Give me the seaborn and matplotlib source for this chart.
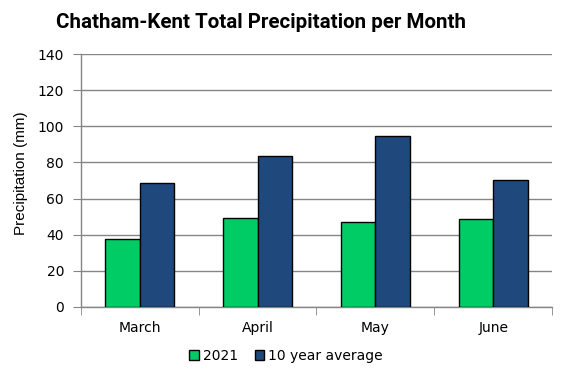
import matplotlib
matplotlib.use("Agg")
import matplotlib.pyplot as plt
import seaborn as sns
import pandas as pd
import numpy as np
from matplotlib.patches import Patch

months = ["March", "April", "May", "June"]
series_names = ["2021", "10 year average"]
vals_2021 = [37.5, 49.0, 47.0, 48.5]
vals_avg = [68.5, 83.5, 94.5, 70.5]
colors = ["#00CC66", "#1F497D"]

df = pd.DataFrame({
    "Month": months * 2,
    "Series": [series_names[0]] * 4 + [series_names[1]] * 4,
    "Precip": vals_2021 + vals_avg,
})

sns.set_style("white")
plt.rcParams['font.family'] = ['DejaVu Sans']
plt.rcParams['text.color'] = 'black'
plt.rcParams['axes.labelcolor'] = 'black'
plt.rcParams['xtick.color'] = 'black'
plt.rcParams['ytick.color'] = 'black'

fig = plt.figure(figsize=(5.67, 3.78), dpi=100)
ax = fig.add_axes([0.1423, 0.1886, 0.974 - 0.1423, 0.8563 - 0.1886])

sns.barplot(data=df, x="Month", y="Precip", hue="Series", order=months,
            hue_order=series_names, palette=colors, width=0.58,
            edgecolor="black", linewidth=1.0, saturation=1, ax=ax,
            legend=False, zorder=3)

ax.set_ylim(0, 140)
ax.set_xlim(-0.5, 3.5)
ax.set_yticks(np.arange(0, 141, 20))
ax.yaxis.grid(True, color="#868686", linewidth=1.0, zorder=0)
ax.set_axisbelow(True)
for s in ["top", "right"]:
    ax.spines[s].set_visible(False)
for s in ["left", "bottom"]:
    ax.spines[s].set_color("#868686")
    ax.spines[s].set_linewidth(1.0)

ax.tick_params(axis="y", which="major", length=6, color="#868686",
               labelsize=10, labelcolor="black", direction="out", left=True, pad=6)
ax.set_xticks(np.arange(-0.5, 3.6, 1), minor=True)
ax.tick_params(axis="x", which="minor", length=6, color="#868686",
               direction="out", bottom=True)
ax.tick_params(axis="x", which="major", length=0, labelsize=10, labelcolor="black", pad=10)

ax.set_xlabel("")
ax.set_ylabel("Precipitation (mm)", fontsize=11, family="Liberation Sans")
ax.yaxis.set_label_coords(-0.112, 0.528)

fig.text(261 / 567, 1 - 23 / 378, "Chatham-Kent Total Precipitation per Month",
         ha="center", va="center", fontsize=14.8, fontweight="bold", family="Roboto",
         color="black")

handles = [Patch(facecolor=c, edgecolor="black", linewidth=1.0) for c in colors]
fig.legend(handles, series_names, loc="center", bbox_to_anchor=(286 / 567, 1 - 356 / 378),
           ncol=2, frameon=False, fontsize=10, handlelength=0.7, handleheight=0.7,
           handletextpad=0.3, columnspacing=1.2)

fig.savefig("out.png", dpi=100)
